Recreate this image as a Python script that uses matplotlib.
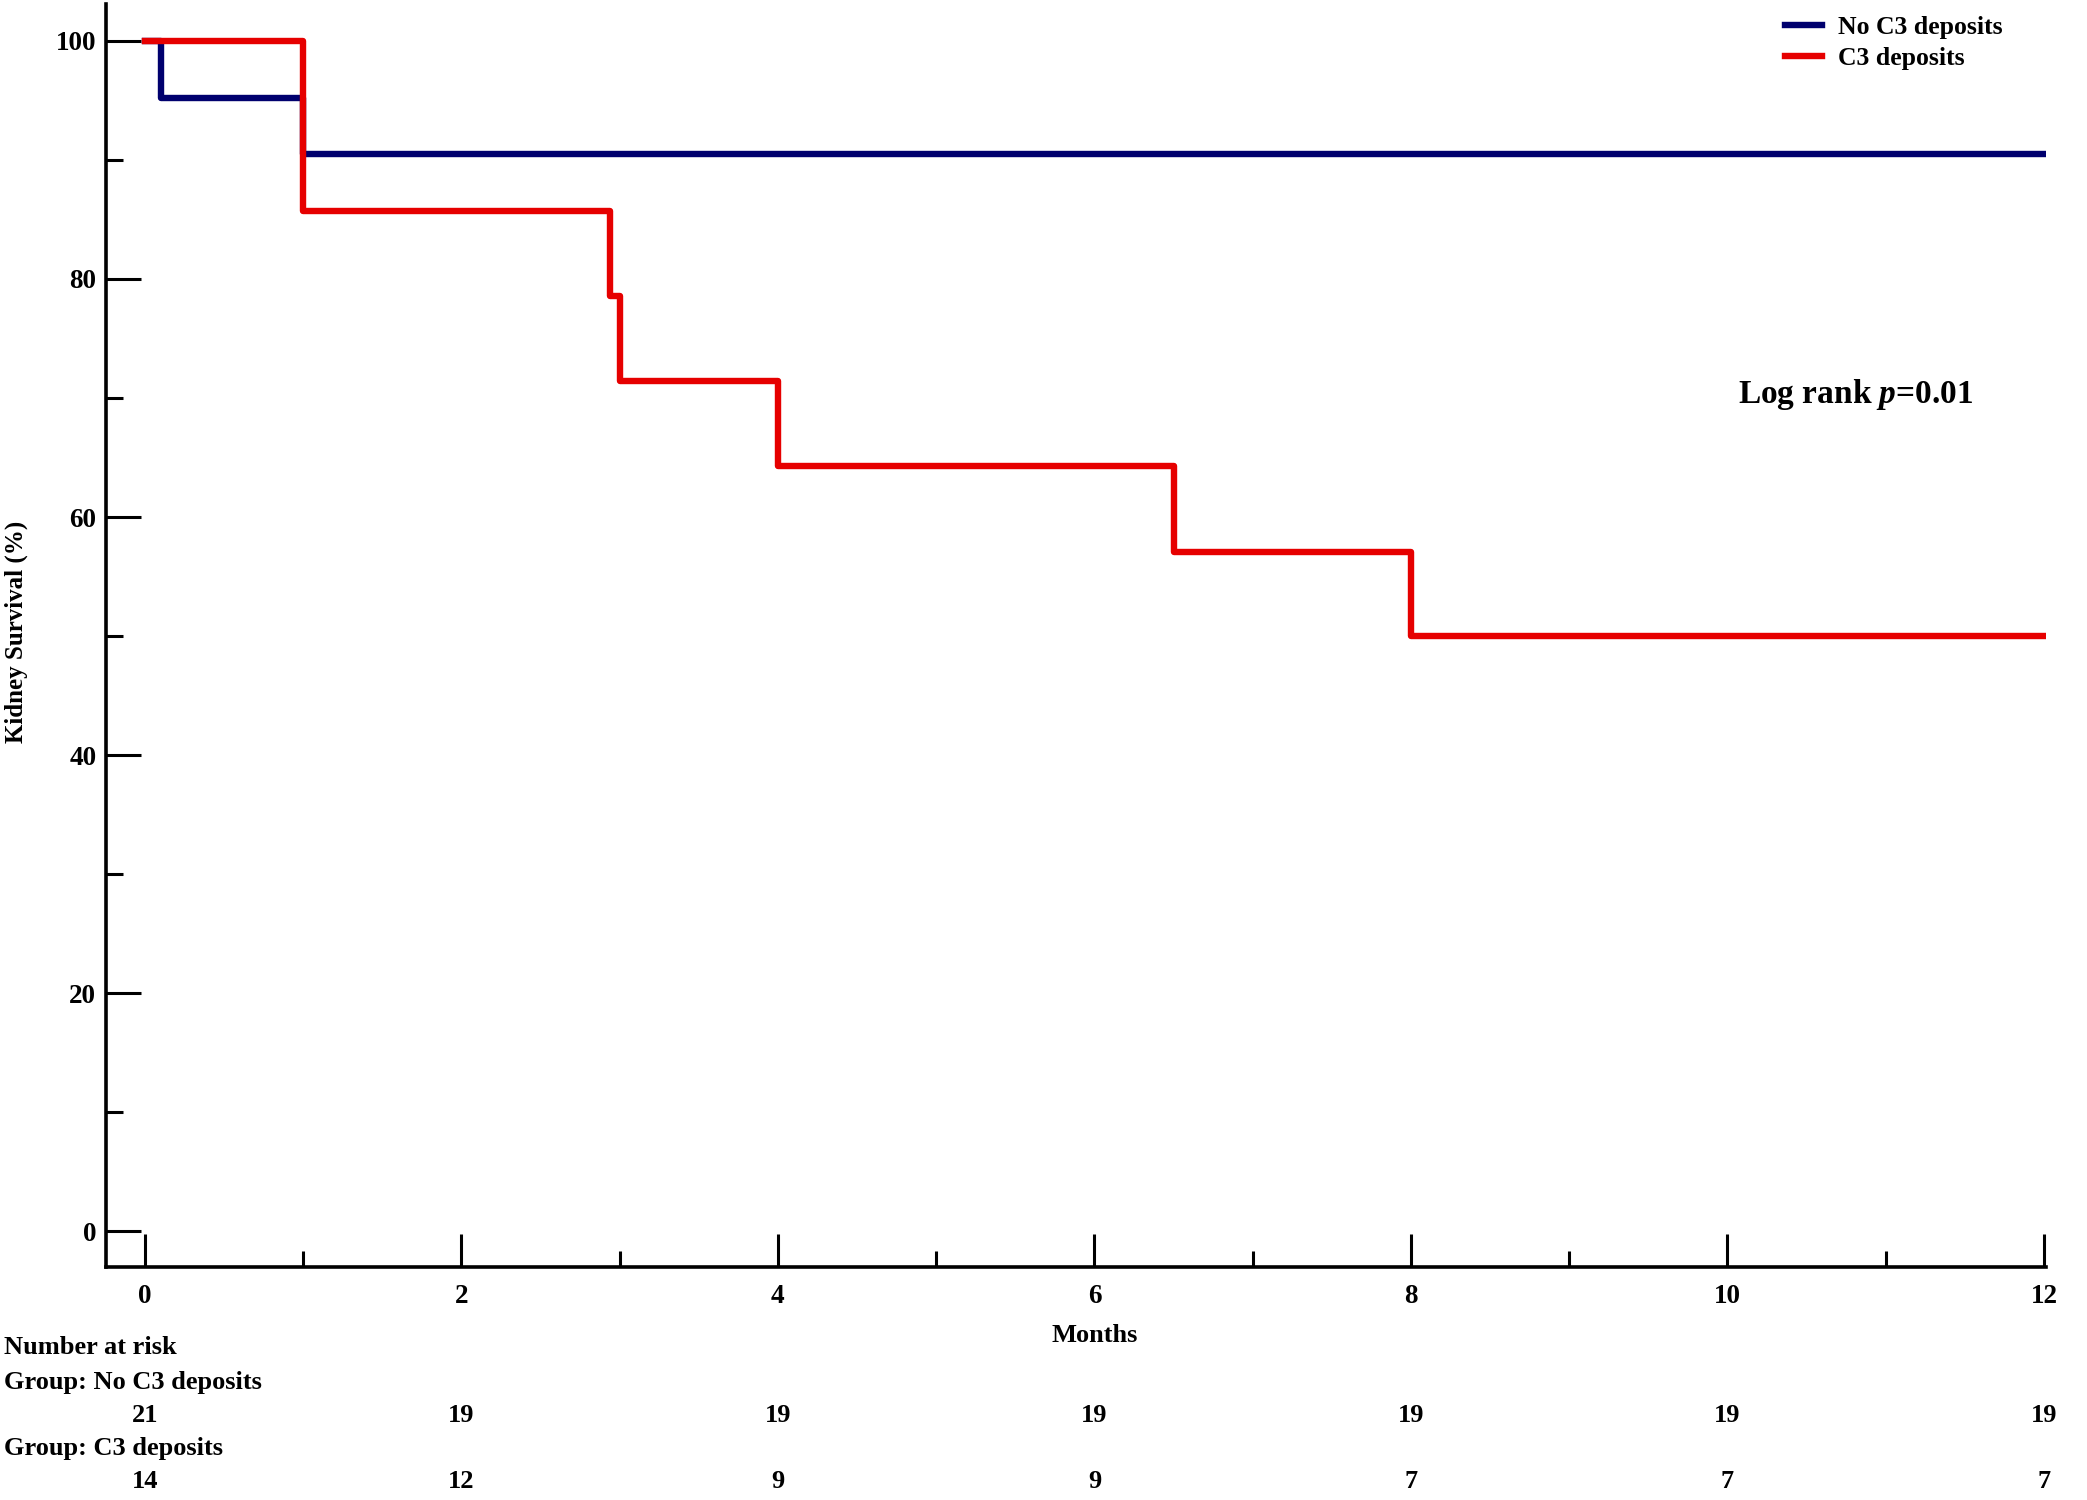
import matplotlib
matplotlib.use("Agg")
import matplotlib.pyplot as plt
from matplotlib.transforms import blended_transform_factory
from matplotlib.ticker import MultipleLocator

plt.rcParams['font.family'] = ['Liberation Serif', 'DejaVu Serif']
plt.rcParams['font.weight'] = 'bold'
plt.rcParams['mathtext.fontset'] = 'custom'
plt.rcParams['mathtext.rm'] = 'Liberation Serif:bold'
plt.rcParams['mathtext.it'] = 'Liberation Serif:italic:bold'

# Kaplan-Meier steps (months, survival %)
no_c3_time = [0, 0.1, 1.0, 12]
no_c3_surv = [100, 95.2, 90.5, 90.5]
c3_time = [0, 1.0, 2.94, 3.0, 4.0, 6.5, 8.0, 12]
c3_surv = [100, 85.7, 78.6, 71.4, 64.3, 57.1, 50.0, 50.0]

# number at risk
risk_months = [0, 2, 4, 6, 8, 10, 12]
risk_no_c3 = [21, 19, 19, 19, 19, 19, 19]
risk_c3 = [14, 12, 9, 9, 7, 7, 7]

blue = '#00006e'
red = '#e60000'

W, H = 2087, 1500
fig = plt.figure(figsize=(W / 100, H / 100), dpi=100)
ax = fig.add_axes([106 / W, 1 - 1267 / H, (2046 - 106) / W, (1267 - 4) / H])

ax.step(no_c3_time, no_c3_surv, where='post', color=blue, lw=4.6, label='No C3 deposits')
ax.step(c3_time, c3_surv, where='post', color=red, lw=4.6, label='C3 deposits')

ax.set_xlim(-0.246, 12.013)
ax.set_ylim(-3.0, 103.1)
for s in ['top', 'right']:
    ax.spines[s].set_visible(False)
for s in ['left', 'bottom']:
    ax.spines[s].set_linewidth(2.6)

ax.xaxis.set_major_locator(MultipleLocator(2))
ax.xaxis.set_minor_locator(MultipleLocator(1))
ax.yaxis.set_major_locator(MultipleLocator(20))
ax.yaxis.set_minor_locator(MultipleLocator(10))
ax.set_xticks(risk_months)
ax.set_yticks([0, 20, 40, 60, 80, 100])
ax.tick_params(axis='x', which='major', direction='in', length=24, width=2.2, pad=12, labelsize=19.5)
ax.tick_params(axis='x', which='minor', direction='in', length=11.5, width=2.2)
ax.tick_params(axis='y', which='major', direction='in', length=25, width=2.2, pad=7, labelsize=19.5)
ax.tick_params(axis='y', which='minor', direction='in', length=12.5, width=2.2)

ax.legend(loc='upper left', bbox_to_anchor=(1785 / W, 1 - 16 / H), bbox_transform=fig.transFigure,
          frameon=False, fontsize=18.5, handlelength=1.45, handletextpad=0.6, labelspacing=0.33,
          borderpad=0, borderaxespad=0)

fig.text(1738 / W, 1 - 403 / H, r'Log rank $\mathit{p}$=0.01', fontsize=24, ha='left', va='baseline')

fig.text(16 / W, 1 - 632 / H, 'Kidney Survival (%)', rotation=90, fontsize=18, ha='center', va='center')

tr = blended_transform_factory(ax.transData, fig.transFigure)
ax.text(6, 1 - 1336 / H, 'Months', transform=tr, ha='center', va='center', fontsize=19, clip_on=False)

fig.text(4 / W, 1 - 1348 / H, 'Number at risk', fontsize=19, ha='left', va='center')
fig.text(4 / W, 1 - 1382 / H, 'Group: No C3 deposits', fontsize=19, ha='left', va='center')
fig.text(4 / W, 1 - 1448 / H, 'Group: C3 deposits', fontsize=19, ha='left', va='center')
for m, n1, n2 in zip(risk_months, risk_no_c3, risk_c3):
    ax.text(m, 1 - 1415 / H, str(n1), transform=tr, ha='center', va='center', fontsize=19, clip_on=False)
    ax.text(m, 1 - 1481 / H, str(n2), transform=tr, ha='center', va='center', fontsize=19, clip_on=False)

fig.savefig('out.png', dpi=100)
